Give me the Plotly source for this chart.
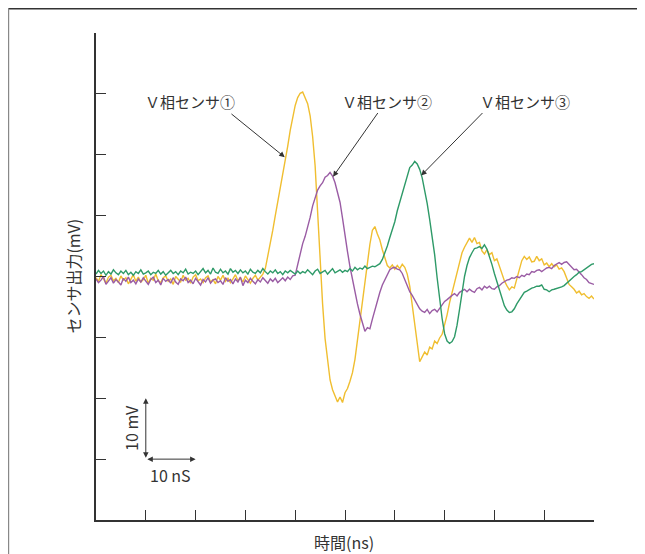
import plotly.graph_objects as go

# sampling times (ns), 0.5 ns step
time_ns = [i * 0.5 for i in range(201)]

sensor1_mV = [
    -0.2, -0.8, 0.3, -0.5, -1.1, -0.1, 0.2, -0.7, -0.3, -1.0,
    0.1, -0.6, -0.2, -1.2, -0.4, 0.3, -0.8, -0.1, -0.9, -0.5,
    0.2, -1.1, -0.3, -0.6, 0.4, -0.7, -1.0, -0.2, 0.1, -0.8,
    -0.4, -1.3, 0.0, -0.5, -0.9, 0.2, -0.6, -0.3, -1.1, -0.1,
    0.3, -0.7, -0.4, -1.0, -0.2, 0.1, -0.9, -0.5, -1.2, 0.0,
    -0.6, 0.2, -0.8, -0.3, -1.0, -0.4, 0.3, -0.7, -0.2, -0.9,
    0.1, -0.5, -1.1, -0.3, 0.2, -0.6, 0.0, 0.4, 1.3, 3.3,
    5.6, 7.6, 10.0, 12.2, 14.6, 16.8, 19.3, 21.4, 24.0, 26.3,
    28.1, 29.4, 30.1, 30.3, 29.3, 28.4, 26.4, 23.0, 18.2, 10.5,
    2.3, -4.5, -10.2, -14.2, -17.0, -18.6, -19.6, -20.6, -19.8, -20.7,
    -19.1, -18.4, -17.2, -15.8, -13.6, -10.4, -7.2, -4.0, -1.0, 2.2,
    5.3, 7.6, 8.2, 7.0, 6.0, 4.4, 3.2, 1.8, 1.4, 1.9,
    1.2, 1.8, 1.3, 2.0, 1.5, 0.4, -1.6, -4.5, -7.6, -10.9,
    -14.0, -13.2, -12.4, -12.9, -11.6, -11.9, -10.6, -11.0, -10.1, -9.5,
    -8.0, -6.3, -4.3, -2.6, -1.3, 0.8, 2.5, 3.9, 4.8, 5.6,
    6.3, 5.6, 6.4, 5.4, 5.6, 4.2, 3.7, 4.4, 3.6, 3.9,
    2.6, 2.9, 1.7, 0.6, -0.7, -1.5, -2.2, -1.7, -1.9, -0.4,
    1.1, 2.6, 3.3, 2.8, 3.2, 2.4, 2.5, 3.3, 2.6, 2.9,
    1.9, 2.2, 1.6, 2.1, 1.6, 1.9, 1.2, 1.4, 0.8, -0.3,
    -1.3, -1.7, -2.1, -2.7, -2.4, -3.0, -2.8, -3.3, -3.6, -3.2,
    -3.7,
]

sensor2_mV = [
    -0.4, -1.0, -0.6, 0.0, -1.3, -0.7, -0.2, -1.1, -0.5, -0.9,
    -1.4, -0.3, -0.8, -0.1, -1.0, -0.6, -1.2, -0.4, -0.9, -0.2,
    -0.7, -1.3, -0.5, -0.1, -1.0, -0.6, -1.4, -0.3, -0.8, -0.5,
    -1.1, -0.2, -0.9, -1.3, -0.4, -0.7, -0.1, -1.0, -0.6, -1.2,
    -0.3, -0.8, -1.4, -0.5, -0.9, -0.2, -1.1, -0.6, -0.4, -1.0,
    -0.7, -1.3, -0.2, -0.8, -0.5, -1.2, -0.4, -0.9, -0.1, -1.5,
    -0.6, -1.0, -0.3, -0.8, -1.2, -0.5, -0.9, -0.2, -0.7, -1.1,
    -0.4, -0.8, -0.3, -1.0, -0.6, -0.2, -0.7, -0.1, -0.5, 0.1,
    0.2, 1.9, 3.8, 5.4, 6.6, 8.1, 9.7, 11.6, 13.1, 14.2,
    14.9, 15.4, 16.3, 16.6, 17.1, 16.5, 15.4, 14.0, 12.2, 9.6,
    6.6, 4.1, 1.6, -0.6, -2.6, -4.5, -6.2, -7.8, -9.0, -8.4,
    -8.6, -7.0, -5.4, -3.9, -2.6, -1.4, -0.5, 0.4, 1.1, 1.4,
    1.5, 1.2, 1.1, 0.5, -0.5, -1.6, -2.5, -3.1, -3.8, -4.7,
    -5.3, -5.7, -5.9, -5.4, -6.1, -5.6, -5.4, -5.8, -5.2, -4.7,
    -4.1, -3.8, -3.4, -3.1, -2.8, -3.2, -2.6, -2.3, -2.1, -2.5,
    -2.1, -2.4, -2.6, -2.0, -1.8, -2.2, -1.6, -1.9, -1.6, -2.0,
    -2.1, -1.7, -1.5, -1.1, -0.8, -0.6, -0.5, -0.2, -0.3, 0.0,
    -0.2, 0.2, 0.0, 0.4, 0.3, 0.8, 0.7, 1.0, 1.1, 0.8,
    1.1, 1.4, 1.5, 1.3, 1.8, 2.1, 2.3, 2.0, 2.3, 2.4,
    2.0, 1.5, 1.1, 1.2, 0.8, 0.3, -0.2, -0.5, -1.0, -1.2,
    -1.3,
]

sensor3_mV = [
    0.4, 1.0, 0.5, 0.9, 0.2, 0.8, 0.4, 1.1, 0.6, 0.3,
    0.9, 0.5, 1.0, 0.3, 0.7, 0.2, 0.8, 0.5, 1.1, 0.4,
    0.6, 0.9, 0.3, 0.7, 0.5, 1.0, 0.4, 0.8, 0.2, 0.6,
    1.0, 0.5, 0.8, 0.3, 0.9, 0.6, 1.2, 0.4, 0.7, 0.5,
    0.9, 0.3, 0.8, 1.3, 0.6, 1.0, 0.4, 1.4, 0.7, 0.5,
    1.2, 0.6, 0.9, 0.4, 1.3, 0.7, 1.0, 0.5, 1.1, 0.6,
    0.9, 0.4, 1.2, 0.7, 0.5, 1.0, 0.6, 1.3, 0.8, 0.4,
    0.9, 0.6, 1.1, 0.5, 0.8, 0.3, 0.9, 0.6, 1.0, 0.7,
    0.4, 0.9, 0.5, 0.8, 0.6, 1.1, 0.7, 0.3, 0.9, 1.2,
    0.5, 0.8, 1.0, 0.4, 0.9, 1.3, 0.6, 0.8, 1.1, 0.7,
    1.0, 0.8, 1.3, 0.9, 1.5, 1.1, 1.4, 1.2, 1.7, 1.3,
    1.5, 1.7, 1.6, 1.9, 2.1, 2.8, 3.8, 5.0, 6.4, 7.7,
    9.0, 10.8, 12.3, 13.8, 15.1, 16.4, 17.9, 18.3, 18.9, 18.5,
    17.6, 16.2, 14.3, 12.0, 9.4, 6.6, 3.6, -0.2, -3.8, -6.9,
    -9.4, -10.6, -11.0, -10.7, -9.9, -8.0, -5.4, -2.6, 0.0, 1.8,
    3.1, 3.9, 4.6, 4.7, 4.9, 4.6, 5.2, 4.5, 3.4, 2.0,
    0.5, -0.8, -2.1, -3.5, -4.8, -5.5, -5.9, -5.8, -5.3, -4.5,
    -3.8, -3.1, -2.6, -2.4, -2.1, -1.9, -1.8, -1.6, -1.6, -1.4,
    -2.1, -2.2, -2.5, -2.2, -2.1, -2.0, -1.8, -1.7, -1.5, -1.1,
    -0.8, -0.4, 0.0, 0.3, 0.7, 0.8, 1.1, 1.5, 1.8, 2.0,
    2.1,
]

series_names = ["Ｖ相センサ①", "Ｖ相センサ②", "Ｖ相センサ③"]
series_values = [sensor1_mV, sensor2_mV, sensor3_mV]
series_colors = ["#F0BE30", "#9A5CA4", "#2E9A68"]

# label placement: (text x, text y, arrow tail x, tail y, arrow head x, head y) in data units
label_pos = [
    (18.9, 28.7, 26.9, 26.9, 37.9, 19.6),
    (58.5, 28.7, 56.8, 27.1, 47.6, 16.4),
    (86.2, 28.7, 77.9, 27.1, 65.3, 16.6),
]

FONT = "Noto Sans CJK JP, Noto Sans, sans-serif"
INK = "#333333"

fig = go.Figure()
for name, vals, col in zip(series_names, series_values, series_colors):
    fig.add_trace(go.Scatter(
        x=time_ns, y=vals, mode="lines", name=name,
        line=dict(color=col, width=1.4), showlegend=False,
    ))

annotations = []
for name, (tx, ty, ax, ay, hx, hy) in zip(series_names, label_pos):
    annotations.append(dict(x=tx, y=ty, xref="x", yref="y", text=name,
                            showarrow=False, font=dict(family=FONT, size=15, color=INK)))
    annotations.append(dict(x=hx, y=hy, ax=ax, ay=ay, xref="x", yref="y", axref="x", ayref="y",
                            text="", showarrow=True, arrowhead=2, arrowsize=1.1,
                            arrowwidth=1, arrowcolor=INK))

# scale bar: 10 mV vertical, 10 ns horizontal
annotations += [
    dict(x=10, y=-20, ax=10, ay=-30, xref="x", yref="y", axref="x", ayref="y", text="",
         showarrow=True, arrowhead=2, arrowside="end+start", arrowsize=1.1, arrowwidth=1,
         arrowcolor=INK),
    dict(x=20, y=-30, ax=10, ay=-30, xref="x", yref="y", axref="x", ayref="y", text="",
         showarrow=True, arrowhead=2, arrowside="end+start", arrowsize=1.1, arrowwidth=1,
         arrowcolor=INK),
    dict(x=7.0, y=-24.9, xref="x", yref="y", text="10 mV", textangle=-90, showarrow=False,
         font=dict(family=FONT, size=16, color=INK)),
    dict(x=14.9, y=-32.6, xref="x", yref="y", text="10 nS", showarrow=False,
         font=dict(family=FONT, size=16, color=INK)),
    dict(x=-0.048, y=0.5, xref="paper", yref="paper", text="センサ出力(mV)", textangle=-90,
         showarrow=False, xanchor="center", yanchor="middle",
         font=dict(family=FONT, size=16, color=INK)),
    dict(x=0.498, y=-0.0455, xref="paper", yref="paper", text="時間(ns)", showarrow=False,
         xanchor="center", yanchor="middle", borderpad=0,
         font=dict(family=FONT, size=16, color=INK)),
]

fig.update_layout(
    width=637, height=546,
    margin=dict(l=88, r=51, t=25, b=34),
    paper_bgcolor="white", plot_bgcolor="white",
    font=dict(family=FONT, color=INK),
    annotations=annotations,
    shapes=[
        dict(type="line", xref="paper", yref="paper", x0=-0.176, x1=1.11, y0=1.0497, y1=1.0497,
             line=dict(color="#333333", width=1.6)),
        dict(type="line", xref="paper", yref="paper", x0=-0.1755, x1=-0.1755, y0=1.0497, y1=-0.1,
             line=dict(color="#888888", width=1.2)),
    ],
)
fig.update_xaxes(range=[0, 100], dtick=10, tick0=0, showticklabels=False, ticks="inside",
                 ticklen=10, tickcolor=INK, tickwidth=1, showline=True, linecolor=INK,
                 linewidth=1.5, showgrid=False, zeroline=False)
fig.update_yaxes(range=[-40, 40], dtick=10, tick0=0, showticklabels=False, ticks="inside",
                 ticklen=10, tickcolor=INK, tickwidth=1, showline=True, linecolor=INK,
                 linewidth=1.5, showgrid=False, zeroline=False)

fig.write_html("out.html")
